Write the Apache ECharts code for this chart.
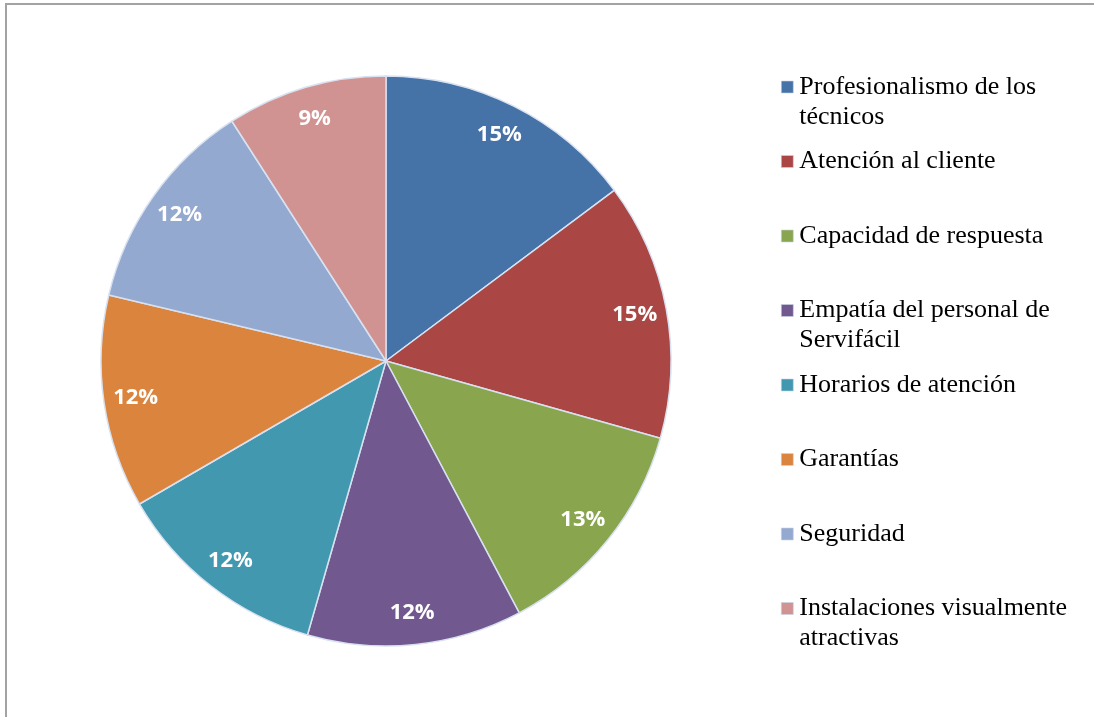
<!DOCTYPE html>
<html>
<head>
<meta charset="utf-8">
<script src="https://cdn.jsdelivr.net/npm/echarts@6/dist/echarts.min.js"></script>
<style>
  html, body { margin: 0; padding: 0; background: #fff; }
  #frame { position: absolute; left: 5px; top: 3px; width: 2000px; height: 2000px;
           border-left: 2px solid #a3a3a3; border-top: 2px solid #a3a3a3; box-sizing: border-box; }
  #chart { position: absolute; left: 0; top: 0; width: 1094px; height: 717px; }
</style>
</head>
<body>
<div id="frame"></div>
<div id="chart"></div>
<script>
// Aspectos de la calidad del servicio (porcentaje de menciones)
const categories = [
  'Profesionalismo de los técnicos',
  'Atención al cliente',
  'Capacidad de respuesta',
  'Empatía del personal de Servifácil',
  'Horarios de atención',
  'Garantías',
  'Seguridad',
  'Instalaciones visualmente atractivas'
];
const values = [14.8, 14.6, 12.9, 12.2, 12.2, 12.1, 12.2, 9.1];
// Legend text broken into lines
const legendLines = [
  ['Profesionalismo de los', 'técnicos'],
  ['Atención al cliente'],
  ['Capacidad de respuesta'],
  ['Empatía del personal de', 'Servifácil'],
  ['Horarios de atención'],
  ['Garantías'],
  ['Seguridad'],
  ['Instalaciones visualmente', 'atractivas']
];
const colors = ['#4572A7', '#AA4643', '#89A54E', '#71588F', '#4198AF', '#DB843D', '#93A9CF', '#D19392'];

const data = categories.map((name, i) => ({ name, value: values[i] }));
const total = values.reduce((a, b) => a + b, 0);

const center = [386, 361];
const R = 285;
const lineH = 30;

// one legend block per entry so every entry sits on a fixed row;
// wrapped entries get a blank leading line so the marker stays beside the first line
const legends = categories.map((name, i) => {
  const lines = legendLines[i];
  const firstLineMid = 87 + i * 74.5;
  const wrapped = lines.length > 1;
  const text = (wrapped ? ' \n' : '') + lines.join('\n');
  return {
    data: [name],
    orient: 'vertical',
    left: 781,
    top: firstLineMid - lineH / 2 - (wrapped ? lineH : 0),
    padding: 0,
    icon: 'rect',
    itemWidth: 12,
    itemHeight: 12,
    itemGap: 0,
    selectedMode: false,
    itemStyle: { borderWidth: 0.6, borderColor: '#c8d3e8' },
    formatter: () => text,
    textStyle: {
      fontFamily: 'Liberation Serif',
      fontSize: 26,
      lineHeight: lineH,
      color: '#000',
      padding: [0, 0, 0, 1]
    }
  };
});

const chart = echarts.init(document.getElementById('chart'), null, { renderer: 'canvas' });
chart.setOption({
  animation: false,
  color: colors,
  legend: legends,
  series: [
    {
      type: 'pie',
      center: center,
      radius: [0, R],
      startAngle: 90,
      clockwise: true,
      silent: true,
      data: data,
      label: { show: false },
      labelLine: { show: false },
      itemStyle: { borderColor: '#d8e1f0', borderWidth: 1.5 }
    },
    {
      // transparent ring carrying the percentage labels near the rim
      type: 'pie',
      center: center,
      radius: [215, R],
      startAngle: 90,
      clockwise: true,
      silent: true,
      data: data,
      itemStyle: { color: 'transparent', borderWidth: 0 },
      labelLine: { show: false },
      label: {
        show: true,
        position: 'inside',
        color: '#fff',
        fontFamily: 'Open Sans',
        fontWeight: 'bold',
        fontSize: 22,
        formatter: p => Math.round(p.value / total * 100) + '%'
      }
    }
  ]
});
</script>
</body>
</html>
